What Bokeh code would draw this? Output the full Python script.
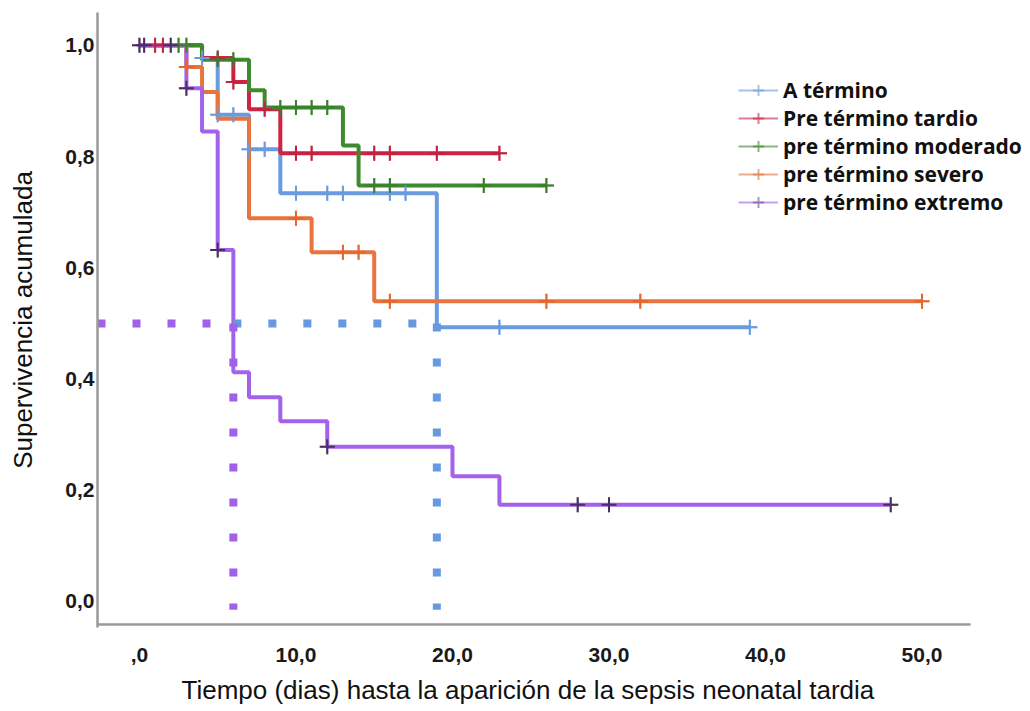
import numpy as np
from bokeh.plotting import figure
from bokeh.models import Range1d, FixedTicker, Legend, LegendItem, Title
from bokeh.embed import file_html
from bokeh.resources import INLINE

# ---- data ----
series_names = ["A término", "Pre término tardio", "pre término moderado",
                "pre término severo", "pre término extremo"]

blue_t = [0, 4, 5, 7, 9, 19, 39]
blue_s = [1.0, 0.977, 0.875, 0.813, 0.734, 0.493, 0.493]
blue_c = [4, 5, 6, 7, 8, 10, 12, 13, 16, 17, 23, 39]

red_t = [0, 4, 6, 7, 9, 23]
red_s = [1.0, 0.977, 0.934, 0.885, 0.806, 0.806]
red_c = [1, 1.5, 5, 6, 8, 10, 11, 15, 16, 19, 23]

green_t = [0, 4, 7, 8, 13, 14, 26]
green_s = [1.0, 0.974, 0.919, 0.888, 0.820, 0.748, 0.748]
green_c = [2.5, 3, 5, 6, 9, 10, 11, 12, 15, 16, 22, 26]

orange_t = [0, 3, 4, 5, 7, 11, 15, 50]
orange_s = [1.0, 0.961, 0.916, 0.868, 0.689, 0.628, 0.540, 0.540]
orange_c = [3, 10, 13, 14, 16, 26, 32, 50]

purple_t = [0, 3, 4, 5, 6, 7, 9, 12, 20, 23, 48]
purple_s = [1.0, 0.923, 0.845, 0.632, 0.412, 0.367, 0.324, 0.278, 0.225, 0.174, 0.174]
purple_c = [0, 0.3, 2, 3, 5, 12, 28, 30, 48]

median_level = 0.5
median_purple = 6
median_blue = 19

x_ticks = [0, 10, 20, 30, 40, 50]
x_tick_labels = [",0", "10,0", "20,0", "30,0", "40,0", "50,0"]
y_ticks = [0.0, 0.2, 0.4, 0.6, 0.8, 1.0]
y_tick_labels = ["0,0", "0,2", "0,4", "0,6", "0,8", "1,0"]
x_title = "Tiempo (dias) hasta la aparición de la sepsis neonatal tardia"
y_title = "Supervivencia acumulada"

# ---- styles ----
colors = ["#6A9BE0", "#CF2346", "#3E8A2E", "#E8733C", "#A462EA"]
censor_colors = ["#6A9BE0", "#C0223F", "#3A7F2A", "#E0672E", "#4B2E63"]
legend_cross_colors = ["#6A9BE0", "#CF2346", "#3E8A2E", "#E8733C", "#7A4FA0"]

X0, X1 = -2.68, 56.93          # frame spans the whole width (legend overhangs axis end)
Y0, Y1 = -0.0468, 1.059
AXIS_END = 53.1                # where the drawn x-axis baseline stops
AXIS_Y = -0.0414

p = figure(width=1030, height=711, output_backend="svg", toolbar_location=None,
           x_range=Range1d(X0, X1), y_range=Range1d(Y0, Y1),
           min_border_left=97, min_border_right=0, min_border_top=12,
           min_border_bottom=84)
p.outline_line_color = None
p.xgrid.visible = False
p.ygrid.visible = False
p.background_fill_color = "white"
p.border_fill_color = "white"

series = [(blue_t, blue_s, blue_c), (red_t, red_s, red_c), (green_t, green_s, green_c),
          (orange_t, orange_s, orange_c), (purple_t, purple_s, purple_c)]

# x-axis baseline (stops before the legend overhang, like the reference)
p.segment(x0=[X0], y0=[AXIS_Y], x1=[AXIS_END], y1=[AXIS_Y],
          line_color="#9A9A9A", line_width=2.5)

# legend proxies (hidden beneath the visible curves)
items = []
for i, (t, s, c) in enumerate(series):
    t_arr = np.array(t, dtype=float)
    s_arr = np.array(s, dtype=float)
    idx = np.searchsorted(t_arr, np.array(c, dtype=float), side="right") - 1
    ln = p.step(t, s, mode="after", line_color=colors[i], line_width=2, line_alpha=0.6)
    sc = p.scatter(c, s_arr[idx], marker="cross", size=15, line_width=2,
                   line_color=legend_cross_colors[i], line_alpha=0.6)
    items.append(LegendItem(label=series_names[i], renderers=[ln, sc]))

for i, (t, s, c) in enumerate(series):
    p.step(t, s, mode="after", line_color=colors[i], line_width=4)
for i, (t, s, c) in enumerate(series):
    t_arr = np.array(t, dtype=float)
    s_arr = np.array(s, dtype=float)
    idx = np.searchsorted(t_arr, np.array(c, dtype=float), side="right") - 1
    p.scatter(c, s_arr[idx], marker="cross", size=15, line_width=2,
              line_color=censor_colors[i])

# median guide lines (dotted)
dash = "8 27"
p.line([X0, median_purple], [median_level, median_level], line_color="#A060E8",
       line_width=8, line_dash=dash, line_cap="butt")
p.line([median_purple, median_blue], [median_level, median_level], line_color="#6699DD",
       line_width=8, line_dash=dash, line_cap="butt")
p.line([median_purple, median_purple], [median_level, -0.015], line_color="#A060E8",
       line_width=8, line_dash=dash, line_cap="butt")
p.line([median_blue, median_blue], [median_level, -0.015], line_color="#6699DD",
       line_width=8, line_dash=dash, line_cap="butt")

legend = Legend(items=items, location=(641, 411), orientation="vertical",
                glyph_width=40, glyph_height=28, label_height=28, spacing=0,
                label_standoff=5, padding=0, margin=0,
                border_line_color=None, background_fill_alpha=0,
                label_text_font="Open Sans", label_text_font_style="bold",
                label_text_font_size="21px", label_text_color="#111111")
p.add_layout(legend)

# axes
for ax in (p.xaxis[0], p.yaxis[0]):
    ax.axis_line_color = "#9A9A9A"
    ax.axis_line_width = 2.5
    ax.major_tick_line_color = None
    ax.minor_tick_line_color = None
    ax.major_tick_out = 0
    ax.major_tick_in = 0
    ax.major_label_text_font = "Liberation Sans"
    ax.major_label_text_font_style = "bold"
    ax.major_label_text_font_size = "21px"
    ax.major_label_text_color = "#1a1a1a"
    ax.axis_label_text_font = "Liberation Sans"
    ax.axis_label_text_font_style = "normal"
    ax.axis_label_text_font_size = "26px"
    ax.axis_label_text_color = "#111111"
p.xaxis.axis_line_color = None

p.xaxis.ticker = FixedTicker(ticks=x_ticks)
p.xaxis.major_label_overrides = {int(k): v for k, v in zip(x_ticks, x_tick_labels)}
p.yaxis.ticker = FixedTicker(ticks=y_ticks)
p.yaxis.major_label_overrides = {k: v for k, v in zip(y_ticks, y_tick_labels)}
p.xaxis.major_label_standoff = 20
p.yaxis.major_label_standoff = 3
p.yaxis.axis_label = y_title
p.yaxis.axis_label_standoff = 24

# small spacer between tick labels and the x title
p.add_layout(Title(text=" ", text_font_size="6px", standoff=0), "below")
# x-axis title as a left-aligned title below (centred under the drawn axis, not the frame)
p.add_layout(Title(text=x_title, align="left", offset=84, standoff=0,
                   text_font="Liberation Sans", text_font_size="26px",
                   text_font_style="normal", text_color="#111111"), "below")

open("out.html", "w").write(file_html(p, INLINE))
